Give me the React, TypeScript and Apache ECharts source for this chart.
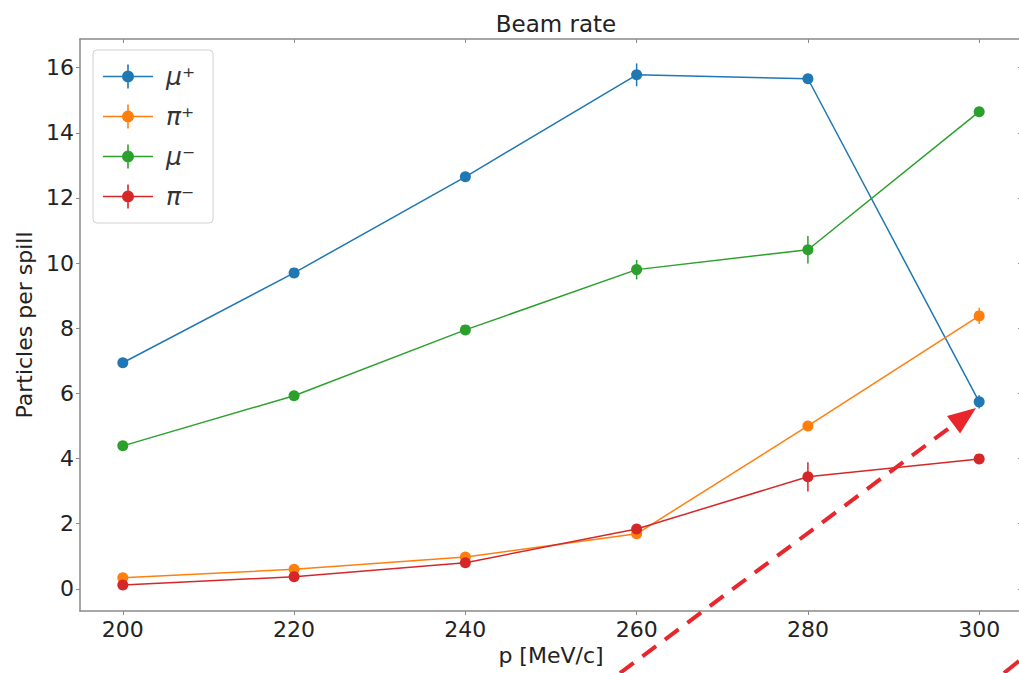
import React, { useEffect, useRef } from "react";
import * as echarts from "echarts";

const momenta = [200, 220, 240, 260, 280, 300];
const muPlus = [6.94, 9.7, 12.65, 15.78, 15.66, 5.74];
const muPlusErr = [0.08, 0.08, 0.1, 0.35, 0.12, 0.2];
const piPlus = [0.34, 0.6, 0.98, 1.69, 5.0, 8.38];
const piPlusErr = [0.08, 0.08, 0.08, 0.1, 0.1, 0.25];
const muMinus = [4.39, 5.93, 7.95, 9.8, 10.41, 14.65];
const muMinusErr = [0.08, 0.08, 0.08, 0.3, 0.42, 0.12];
const piMinus = [0.12, 0.37, 0.8, 1.84, 3.44, 3.99];
const piMinusErr = [0.08, 0.08, 0.08, 0.15, 0.45, 0.1];

const seriesNames = ["μ⁺", "π⁺", "μ⁻", "π⁻"];
const seriesColors = ["#1f77b4", "#ff7f0e", "#2ca02c", "#d62728"];
const seriesValues = [muPlus, piPlus, muMinus, piMinus];
const seriesErrors = [muPlusErr, piPlusErr, muMinusErr, piMinusErr];
const xTicks = [200, 220, 240, 260, 280, 300];
const yTicks = [0, 2, 4, 6, 8, 10, 12, 14, 16];

const legendIcon =
  "path://M0 11.2 L50 11.2 L50 12.8 L0 12.8 Z M24.2 0 L25.8 0 L25.8 24 L24.2 24 Z M31 12 A6 6 0 1 1 19 12 A6 6 0 1 1 31 12 Z";

export default function App() {
  const ref = useRef<HTMLDivElement>(null);
  useEffect(() => {
    if (!ref.current) return;
    const chart = echarts.init(ref.current, null, { renderer: "svg" });
    const font = "DejaVu Sans";
    const axisGray = "#8a8a8a";

    const series: any[] = [];
    seriesNames.forEach((name, i) => {
      series.push({
        name,
        type: "line",
        data: momenta.map((x, j) => [x, seriesValues[i][j]]),
        symbol: "circle",
        symbolSize: 11,
        lineStyle: { width: 1.5, color: seriesColors[i] },
        itemStyle: { color: seriesColors[i] },
        z: 3 + i,
      });
      series.push({
        name: name + " err",
        type: "custom",
        data: momenta.map((x, j) => [x, seriesValues[i][j], seriesErrors[i][j]]),
        z: 3 + i,
        renderItem: (params: any, api: any) => {
          const x = api.value(0);
          const y = api.value(1);
          const e = api.value(2);
          const p1 = api.coord([x, y - e]);
          const p2 = api.coord([x, y + e]);
          return {
            type: "line",
            shape: { x1: p1[0], y1: p1[1], x2: p2[0], y2: p2[1] },
            style: { stroke: seriesColors[i], lineWidth: 1.5 },
          };
        },
      });
    });

    const tip = [976, 408];
    const start = [620, 673];
    const dx = tip[0] - start[0];
    const dy = tip[1] - start[1];
    const len = Math.sqrt(dx * dx + dy * dy);
    const ux = dx / len;
    const uy = dy / len;
    const px = -uy;
    const py = ux;
    const headLen = 28;
    const headHalf = 11;
    const bx = tip[0] - ux * headLen;
    const by = tip[1] - uy * headLen;
    const arrowRed = "#e8262b";

    chart.setOption({
      animation: false,
      backgroundColor: "#ffffff",
      title: {
        text: "Beam rate",
        left: 551,
        top: 7,
        textAlign: "center",
        textStyle: { fontFamily: font, fontSize: 23, fontWeight: "normal", color: "#222" },
      },
      grid: { left: 80, right: 3, top: 39, bottom: 62, containLabel: false },
      legend: {
        orient: "vertical",
        left: 93,
        top: 50,
        data: seriesNames,
        icon: legendIcon,
        itemWidth: 50,
        itemHeight: 24,
        itemGap: 15,
        padding: [14, 18, 14, 10],
        borderColor: "#d0d0d0",
        borderWidth: 1,
        borderRadius: 4,
        backgroundColor: "rgba(255,255,255,0.85)",
        textStyle: { fontFamily: font, fontSize: 25, fontStyle: "italic", color: "#333", padding: [0, 0, 0, 8] },
      },
      xAxis: [
        {
          type: "value",
          min: 195,
          max: 305,
          name: "p [MeV/c]",
          nameLocation: "middle",
          nameGap: 32,
          nameTextStyle: { fontFamily: font, fontSize: 22, color: "#222", verticalAlign: "top" },
          axisLine: { show: true, onZero: false, lineStyle: { color: axisGray, width: 1.5 } },
          axisTick: { show: true, length: 4, lineStyle: { color: axisGray }, customValues: xTicks },
          axisLabel: {
            fontFamily: font,
            fontSize: 22,
            color: "#222",
            margin: 7,
            customValues: xTicks,
          },
          splitLine: { show: false },
        },
        {
          type: "value",
          position: "top",
          min: 195,
          max: 305,
          axisLine: { show: true, onZero: false, lineStyle: { color: axisGray, width: 1.5 } },
          axisTick: { show: true, length: 4, inside: true, lineStyle: { color: axisGray }, customValues: xTicks },
          axisLabel: { show: false },
          splitLine: { show: false },
        },
      ],
      yAxis: [
        {
          type: "value",
          min: -0.68,
          max: 16.88,
          name: "Particles per spill",
          nameLocation: "middle",
          nameGap: 44,
          nameTextStyle: { fontFamily: font, fontSize: 22, color: "#222" },
          axisLine: { show: true, onZero: false, lineStyle: { color: axisGray, width: 1.5 } },
          axisTick: { show: true, length: 4, lineStyle: { color: axisGray }, customValues: yTicks },
          axisLabel: { fontFamily: font, fontSize: 22, color: "#222", margin: 6, customValues: yTicks },
          splitLine: { show: false },
        },
        {
          type: "value",
          position: "right",
          min: -0.68,
          max: 16.88,
          axisLine: { show: true, onZero: false, lineStyle: { color: axisGray, width: 1.5 } },
          axisTick: { show: true, length: 4, inside: true, lineStyle: { color: axisGray }, customValues: yTicks },
          axisLabel: { show: false },
          splitLine: { show: false },
        },
      ],
      series,
      graphic: [
        {
          type: "line",
          z: 100,
          shape: { x1: start[0], y1: start[1], x2: bx, y2: by },
          style: { stroke: arrowRed, lineWidth: 4, lineDash: [17, 11] },
        },
        {
          type: "polygon",
          z: 100,
          shape: {
            points: [
              [tip[0], tip[1]],
              [bx + px * headHalf, by + py * headHalf],
              [bx - px * headHalf, by - py * headHalf],
            ],
          },
          style: { fill: arrowRed },
        },
        {
          type: "line",
          z: 100,
          shape: { x1: 1004, y1: 673, x2: 1019, y2: 661 },
          style: { stroke: arrowRed, lineWidth: 4 },
        },
      ],
    });
    return () => chart.dispose();
  }, []);
  return (
    <div
      ref={ref}
      style={{ position: "fixed", left: 0, top: 0, width: 1025, height: 673 }}
    />
  );
}
